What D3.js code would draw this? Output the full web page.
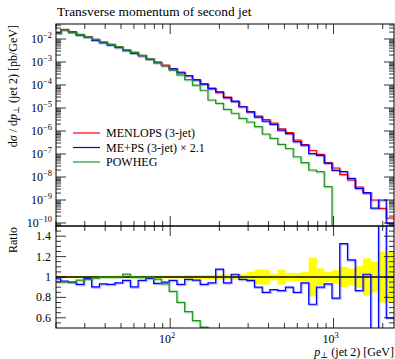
<!DOCTYPE html>
<html>
<head>
<meta charset="utf-8">
<script src="https://cdn.jsdelivr.net/npm/d3@7"></script>
<style>
body { margin: 0; background: #fff; }
text { font-family: "Liberation Serif", "DejaVu Serif", serif; fill: #000; }
</style>
</head>
<body>
<svg id="chart" width="395" height="359"></svg>
<script>
// bin edges of the pT(jet 2) histogram [GeV]
var binEdges = [20, 21.34, 23.80, 26.55, 29.62, 33.03, 36.85, 41.11, 45.85, 51.15, 57.05,
    63.64, 71.00, 79.19, 88.34, 98.51, 109.9, 122.6, 136.7, 152.5, 170.2,
    189.8, 211.7, 236.2, 263.4, 293.9, 327.8, 365.7, 407.8, 455.0, 507.5,
    566.2, 631.5, 704.5, 785.8, 876.5, 977.7, 1091, 1217, 1357, 1514,
    1689, 1884, 2101, 2344];

// MENLOPS (3-jet), pb/GeV
var menlops = [1.88e-2, 2.64e-2, 2.08e-2, 1.60e-2, 1.26e-2, 9.7e-3, 7.4e-3, 5.9e-3, 4.6e-3, 3.3e-3,
    2.64e-3, 1.95e-3, 1.39e-3, 1.0e-3, 7.4e-4, 5.2e-4, 3.67e-4, 2.59e-4, 1.73e-4, 1.16e-4,
    7.4e-5, 4.72e-5, 3.01e-5, 1.92e-5, 1.16e-5, 7.0e-6, 4.49e-6, 3.16e-6, 2.23e-6, 1.25e-6,
    8.6e-7, 4.06e-7, 2.59e-7, 1.42e-7, 9.7e-8, 4.27e-8, 2.46e-8, 1.28e-8, 7.4e-9, 3.67e-9,
    2.02e-9, 1.0e-9, 4.35e-10, 1.65e-10];

// relative stat. error of MENLOPS (yellow band)
var menlopsErr = [0.012, 0.012, 0.012, 0.012, 0.012, 0.012, 0.012, 0.012, 0.012, 0.012,
    0.012, 0.015, 0.015, 0.015, 0.015, 0.015, 0.015, 0.02, 0.02, 0.02,
    0.02, 0.025, 0.025, 0.027, 0.027, 0.05, 0.073, 0.073, 0.033, 0.073,
    0.04, 0.04, 0.05, 0.19, 0.083, 0.05, 0.067, 0.1, 0.083, 0.107,
    0.183, 0.15, 0.25, 0.25];

// ME+PS (3-jet) x 2.1, as ratio to MENLOPS
var mepsRatio = [0.983, 0.96, 0.95, 0.927, 0.987, 0.903, 0.933, 0.927, 0.943, 0.967,
    0.903, 0.967, 0.987, 0.937, 0.95, 0.967, 0.927, 0.977, 0.97, 0.927,
    0.943, 1.077, 0.943, 1.027, 0.977, 0.967, 0.9, 0.85, 0.877, 0.867,
    0.9, 0.85, 0.943, 0.733, 0.9, 0.933, 0.793, 1.327, 1.167, 0.867,
    1.027, 0.44, 2.3, 0.6];

// POWHEG, pb/GeV
var powheg = [1.79e-2, 2.51e-2, 1.98e-2, 1.55e-2, 1.23e-2, 9.6e-3, 7.4e-3, 5.9e-3, 4.6e-3, 3.39e-3,
    2.64e-3, 1.95e-3, 1.39e-3, 9.8e-4, 6.9e-4, 4.47e-4, 2.76e-4, 1.71e-4, 9.9e-5, 5.9e-5,
    2.23e-5, 1.60e-5, 8.8e-6, 5.9e-6, 3.57e-6, 2.46e-6, 1.54e-6, 7.4e-7, 4.82e-7, 2.64e-7,
    1.73e-7, 7.6e-8, 4.19e-8, 2.01e-8, 1.70e-8, 3.79e-9, 0, 0, 0, 0,
    0, 0, 0, 0];

var legendNames = ["MENLOPS (3-jet)", "ME+PS (3-jet) \u00d7 2.1", "POWHEG"];
var colors = ["#ff0000", "#0000ff", "#1e961e"];
var yMainDecades = [-2, -3, -4, -5, -6, -7, -8, -9, -10];
var ratioTicks = [0.6, 0.8, 1, 1.2, 1.4];
var xTickPowers = [2, 3];

var svg = d3.select("#chart");
var left = 56, right = 394, mainTop = 24, mainBottom = 226, ratioBottom = 328;

var x = d3.scaleLog().domain([20, 2344]).range([left, right]);
var yMain = d3.scaleLog().domain([7.4e-11, 0.0449]).range([mainBottom, mainTop]);
var yRatio = d3.scaleLinear().domain([0.5, 1.5]).range([ratioBottom, mainBottom]);

var meps = menlops.map((v, i) => v * mepsRatio[i]);
var powhegRatio = powheg.map((v, i) => v / menlops[i]);

// clip paths
var defs = svg.append("defs");
defs.append("clipPath").attr("id", "clipMain").append("rect")
    .attr("x", left).attr("y", mainTop).attr("width", right - left).attr("height", mainBottom - mainTop);
defs.append("clipPath").attr("id", "clipRatio").append("rect")
    .attr("x", left).attr("y", mainBottom).attr("width", right - left).attr("height", ratioBottom - mainBottom);

function steps(vals){
    let pts = [];
    vals.forEach((v, i) => {
        pts.push([binEdges[i], v]);
        pts.push([binEdges[i + 1], v]);
    });
    return pts;
}

var lineMain = d3.line()
    .x(d => x(d[0]))
    .y(d => d[1] > 0 ? yMain(d[1]) : mainBottom + 40);
var lineRatio = d3.line()
    .x(d => x(d[0]))
    .y(d => yRatio(d[1]));

// main panel
var gMain = svg.append("g").attr("clip-path", "url(#clipMain)");
[menlops, meps, powheg].forEach((s, k) => {
    gMain.append("path").attr("d", lineMain(steps(s)))
        .attr("transform", "translate(0.8,0.8)")
        .attr("fill", "none").attr("stroke", colors[k])
        .attr("stroke-opacity", 0.3).attr("stroke-width", 2);
    gMain.append("path").attr("d", lineMain(steps(s)))
        .attr("fill", "none").attr("stroke", colors[k])
        .attr("stroke-width", 1.2);
});

// ratio panel
var gRatio = svg.append("g").attr("clip-path", "url(#clipRatio)");
gRatio.selectAll("rect.band").data(menlopsErr).enter().append("rect")
    .attr("class", "band")
    .attr("x", (d, i) => x(binEdges[i]))
    .attr("width", (d, i) => x(binEdges[i + 1]) - x(binEdges[i]) + 0.3)
    .attr("y", d => yRatio(1 + d))
    .attr("height", d => yRatio(1 - d) - yRatio(1 + d))
    .attr("fill", "#ffff00");
gRatio.append("line")
    .attr("x1", left).attr("x2", right)
    .attr("y1", yRatio(1)).attr("y2", yRatio(1))
    .attr("stroke", "#000").attr("stroke-width", 1.3);
[mepsRatio, powhegRatio].forEach((s, k) => {
    let c = colors[k + 1];
    let pts = steps(s.map(v => Math.max(-1, Math.min(3, v))));
    gRatio.append("path").attr("d", lineRatio(pts))
        .attr("transform", "translate(0.8,0.8)")
        .attr("fill", "none").attr("stroke", c)
        .attr("stroke-opacity", 0.3).attr("stroke-width", 2);
    gRatio.append("path").attr("d", lineRatio(pts))
        .attr("fill", "none").attr("stroke", c)
        .attr("stroke-width", 1.2);
});

// frames
svg.append("rect").attr("x", left).attr("y", mainTop)
    .attr("width", right - left).attr("height", mainBottom - mainTop)
    .attr("fill", "none").attr("stroke", "#000").attr("stroke-width", 1);
svg.append("rect").attr("x", left).attr("y", mainBottom)
    .attr("width", right - left).attr("height", ratioBottom - mainBottom)
    .attr("fill", "none").attr("stroke", "#000").attr("stroke-width", 1);

// x ticks (both panels, top and bottom)
var ticks = svg.append("g").attr("stroke", "#000").attr("stroke-width", 0.8);
var xt = x.ticks();
[[mainTop, 1], [mainBottom, -1], [mainBottom, 1], [ratioBottom, -1]].forEach(p => {
    xt.forEach(t => {
        let major = xTickPowers.some(e => Math.abs(Math.log10(t) - e) < 1e-6);
        let len = major ? 10 : 5;
        ticks.append("line")
            .attr("x1", x(t)).attr("x2", x(t))
            .attr("y1", p[0]).attr("y2", p[0] + p[1] * len);
    });
});

// main y ticks
var yt = yMain.ticks();
yt.forEach(t => {
    let major = Math.abs(Math.log10(t) - Math.round(Math.log10(t))) < 1e-6;
    let len = major ? 10 : 5;
    [[left, 1], [right, -1]].forEach(p => {
        ticks.append("line")
            .attr("x1", p[0]).attr("x2", p[0] + p[1] * len)
            .attr("y1", yMain(t)).attr("y2", yMain(t));
    });
});

// ratio y ticks
d3.range(0.55, 1.5, 0.05).forEach(t => {
    let major = ratioTicks.some(r => Math.abs(r - t) < 1e-6);
    let len = major ? 10 : 5;
    [[left, 1], [right, -1]].forEach(p => {
        ticks.append("line")
            .attr("x1", p[0]).attr("x2", p[0] + p[1] * len)
            .attr("y1", yRatio(t)).attr("y2", yRatio(t));
    });
});

// tick labels
yMainDecades.forEach(e => {
    let t = svg.append("text")
        .attr("x", left - 4).attr("y", yMain(Math.pow(10, e)) + 4)
        .attr("text-anchor", "end").style("font-size", "12px");
    t.append("tspan").text("10");
    t.append("tspan").attr("dy", -5).style("font-size", "8.5px").text("\u2212" + (-e));
});
ratioTicks.forEach(r => {
    svg.append("text")
        .attr("x", left - 5).attr("y", yRatio(r) + 4)
        .attr("text-anchor", "end").style("font-size", "12px")
        .text(r);
});
xTickPowers.forEach(e => {
    let t = svg.append("text")
        .attr("x", x(Math.pow(10, e)) - 3).attr("y", 343)
        .attr("text-anchor", "middle").style("font-size", "12px");
    t.append("tspan").text("10");
    t.append("tspan").attr("dy", -5).style("font-size", "8.5px").text(e);
});

// title and axis labels
svg.append("text").attr("x", left + 1).attr("y", 16)
    .style("font-size", "13.4px").text("Transverse momentum of second jet");

var xl = svg.append("text").attr("x", right).attr("y", 356)
    .attr("text-anchor", "end").style("font-size", "12px");
xl.append("tspan").style("font-style", "italic").text("p");
xl.append("tspan").attr("dy", 2).style("font-size", "8.5px").text("\u22a5");
xl.append("tspan").attr("dy", -2).text(" (jet 2) [GeV]");

var yl = svg.append("text")
    .attr("transform", "translate(17," + (mainTop + 1) + ") rotate(-90)")
    .attr("text-anchor", "end").style("font-size", "12px");
yl.append("tspan").text("d");
yl.append("tspan").style("font-style", "italic").text("\u03c3");
yl.append("tspan").text(" / d");
yl.append("tspan").style("font-style", "italic").text("p");
yl.append("tspan").attr("dy", 2).style("font-size", "8.5px").text("\u22a5");
yl.append("tspan").attr("dy", -2).text(" (jet 2) [pb/GeV]");

svg.append("text")
    .attr("transform", "translate(17," + (mainBottom + 1) + ") rotate(-90)")
    .attr("text-anchor", "end").style("font-size", "12px").text("Ratio");

// legend
legendNames.forEach((n, i) => {
    let ly = 133 + i * 14.5;
    svg.append("line")
        .attr("x1", 73).attr("x2", 100).attr("y1", ly).attr("y2", ly)
        .attr("stroke", colors[i]).attr("stroke-width", 1.2);
    svg.append("text").attr("x", 106).attr("y", ly + 4)
        .style("font-size", "12px").text(n);
});
</script>
</body>
</html>
